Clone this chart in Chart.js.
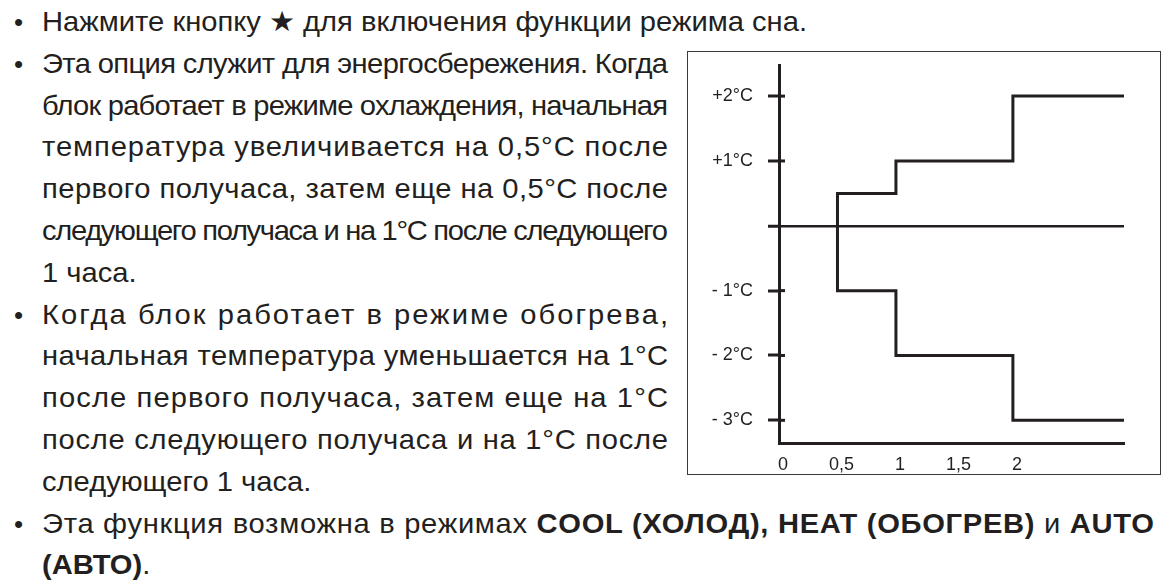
<!DOCTYPE html>
<html lang="ru">
<head>
<meta charset="utf-8">
<script src="https://cdn.jsdelivr.net/npm/chart.js@4.4.1/dist/chart.umd.min.js"></script>
<style>
  html, body { margin:0; padding:0; background:#fff; }
  body { width:1169px; height:586px; position:relative; overflow:hidden; color:#231f20;
         font-family:"Liberation Sans",Arial,sans-serif; font-size:28px; }
  .ln { position:absolute; height:42px; line-height:42px; white-space:nowrap; }
  .bul { position:absolute; left:14px; height:42px; line-height:42px; font-family:"Liberation Sans",sans-serif; font-size:26px; }
  .ln span { display:inline-block; transform-origin:0 50%; }
  b { font-weight:bold; }
  #box { position:absolute; left:687px; top:51px; width:472px; height:422px; border:1.5px solid #3a3a3a; }
  #chartWrap { position:absolute; left:688px; top:52px; width:472px; height:422px; }
  canvas { display:block; }
</style>
</head>
<body>
<div class="bul" style="top:1px">•</div>
<div class="ln" id="first" style="top:1px;left:42px"><span>Нажмите кнопку ★ для включения функции режима сна.</span></div>
<div class="bul" style="top:43px">•</div>
<div class="ln" data-w="626" style="top:43px;left:42px"><span>Эта опция служит для энергосбережения. Когда</span></div>
<div class="ln" data-w="626" style="top:85px;left:42px"><span>блок работает в режиме охлаждения, начальная</span></div>
<div class="ln" data-w="626" style="top:126px;left:42px"><span>температура увеличивается на 0,5°C после</span></div>
<div class="ln" data-w="626" style="top:168px;left:42px"><span>первого получаса, затем еще на 0,5°C после</span></div>
<div class="ln" data-w="626" style="top:210px;left:42px"><span>следующего получаса и на 1°C после следующего</span></div>
<div class="ln" style="top:252px;left:42px"><span>1 часа.</span></div>
<div class="bul" style="top:294px">•</div>
<div class="ln" data-w="626" style="top:294px;left:42px"><span>Когда блок работает в режиме обогрева,</span></div>
<div class="ln" data-w="626" style="top:335px;left:42px"><span>начальная температура уменьшается на 1°C</span></div>
<div class="ln" data-w="626" style="top:377px;left:42px"><span>после первого получаса, затем еще на 1°C</span></div>
<div class="ln" data-w="626" style="top:419px;left:42px"><span>после следующего получаса и на 1°C после</span></div>
<div class="ln" style="top:461px;left:42px"><span>следующего 1 часа.</span></div>
<div class="bul" style="top:503px">•</div>
<div class="ln" data-w="1112" style="top:503px;left:42px"><span>Эта функция возможна в режимах <b>COOL (ХОЛОД), HEAT (ОБОГРЕВ)</b> и <b>AUTO</b></span></div>
<div class="ln" style="top:544px;left:42px"><span><b>(АВТО)</b>.</span></div>

<div id="box"></div>
<div id="chartWrap"><canvas id="c" width="472" height="422"></canvas></div>

<script>
// ---- data ----
const yTickValues = [-3, -2, -1, 0, 1, 2];
const yTickLabels = ['- 3°C', '- 2°C', '- 1°C', '', '+1°C', '+2°C'];
const xTickValues = [0, 0.5, 1, 1.5, 2];
const xTickLabels = ['0', '0,5', '1', '1,5', '2'];
const stepHours = [0.5, 0.5, 1, 2, 2.95];
const coolingOffset = [0, 0.5, 1, 2, 2];
const heatingOffset = [0, -1, -2, -3, -3];

// ---- condensed text (horizontal scale fitted to the first line), justified with letter spacing ----
const firstSpan = document.querySelector('#first span');
const K = 765 / firstSpan.getBoundingClientRect().width;
document.querySelectorAll('.ln').forEach(function (ln) {
  const span = ln.querySelector('span');
  span.style.transform = 'scaleX(' + K + ')';
  const wAttr = ln.getAttribute('data-w');
  if (!wAttr) return;
  const W = parseFloat(wAttr);
  const natural = span.getBoundingClientRect().width;
  const n = span.textContent.length;
  const ls = (W - natural) / (K * (n - 1));
  span.style.letterSpacing = ls + 'px';
});

const INK = '#231f20';
const innerTicks = {
  id: 'innerTicks',
  afterDraw(chart) {
    const ys = chart.scales.y, xs = chart.scales.x;
    const x0 = xs.getPixelForValue(0);
    const ctx = chart.ctx;
    ctx.save();
    ctx.strokeStyle = INK;
    ctx.lineWidth = 3;
    yTickValues.forEach(v => {
      if (v === 0) return;
      const py = ys.getPixelForValue(v);
      ctx.beginPath();
      ctx.moveTo(x0, py);
      ctx.lineTo(x0 + 6, py);
      ctx.stroke();
    });
    ctx.restore();
  }
};

const mk = (vals) => stepHours.map((x, i) => ({ x: x, y: vals[i] }));
const lbl = { family: '"Liberation Sans", Arial, sans-serif', size: 18 };

new Chart(document.getElementById('c'), {
  type: 'line',
  data: {
    datasets: [
      { label: 'Охлаждение', data: mk(coolingOffset), stepped: 'before', borderColor: INK, borderWidth: 3,
        pointRadius: 0, fill: false, borderJoinStyle: 'miter', borderCapStyle: 'butt' },
      { label: 'Обогрев', data: mk(heatingOffset), stepped: 'before', borderColor: INK, borderWidth: 3,
        pointRadius: 0, fill: false, borderJoinStyle: 'miter', borderCapStyle: 'butt' }
    ]
  },
  options: {
    responsive: false,
    animation: false,
    devicePixelRatio: 1,
    layout: { padding: { top: 13, right: 36, left: 0, bottom: 0 } },
    plugins: { legend: { display: false }, tooltip: { enabled: false } },
    scales: {
      x: {
        type: 'linear', min: 0, max: 2.95,
        afterBuildTicks: s => { s.ticks = xTickValues.map(v => ({ value: v })); },
        afterFit: s => { s.height = 31; s.paddingLeft = 0; s.paddingRight = 0; },
        ticks: { callback: v => xTickLabels[xTickValues.indexOf(v)], font: lbl, color: INK,
                 padding: 3, maxRotation: 0, autoSkip: false, labelOffset: 4 },
        grid: { display: false },
        border: { display: true, width: 3, color: INK }
      },
      y: {
        type: 'linear', min: -3.35, max: 2.48,
        afterBuildTicks: s => { s.ticks = yTickValues.map(v => ({ value: v })); },
        afterFit: s => { s.width = 91; s.paddingTop = 0; s.paddingBottom = 0; },
        ticks: { callback: v => yTickLabels[yTickValues.indexOf(v)], font: lbl, color: INK, padding: 15 },
        grid: {
          display: true, drawOnChartArea: true, drawTicks: true, tickLength: 11,
          tickColor: INK, tickWidth: 3,
          color: c => (c.tick && c.tick.value === 0) ? INK : 'rgba(0,0,0,0)',
          lineWidth: c => (c.tick && c.tick.value === 0) ? 2.5 : 0
        },
        border: { display: true, width: 3, color: INK }
      }
    }
  },
  plugins: [innerTicks]
});
</script>
</body>
</html>
